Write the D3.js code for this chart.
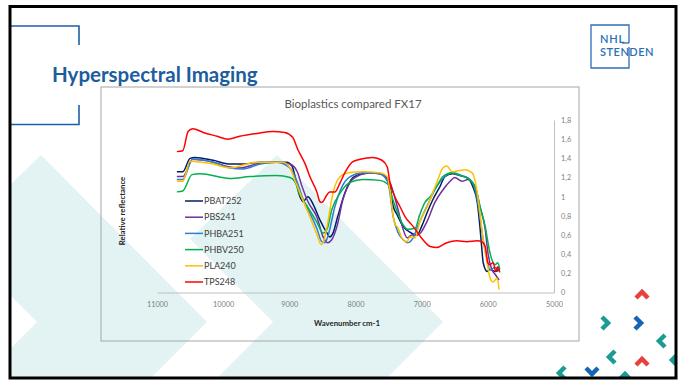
<!DOCTYPE html>
<html>
<head>
<meta charset="utf-8">
<script src="https://cdn.jsdelivr.net/npm/d3@7"></script>
<style>
  body { margin: 0; background: #fff; }
  text { font-family: Lato, "Open Sans", sans-serif; }
</style>
</head>
<body>
<svg id="slide"></svg>
<script>
// series: [wavenumber cm-1, relative reflectance]
const seriesNames = ["PBAT252", "PBS241", "PHBA251", "PHBV250", "PLA240", "TPS248"];
const seriesColors = ["#002060", "#7030a0", "#2e7fd0", "#00b050", "#ffc000", "#ff0000"];

const pbat252 = [[10700,1.26],[10610,1.26],[10500,1.40],[10430,1.41],[10150,1.38],[9900,1.34],[9700,1.34],[9440,1.36],[9190,1.36],[9040,1.36],[8960,1.32],[8910,1.20],[8870,1.07],[8790,0.95],[8720,1.00],[8640,0.92],[8540,0.76],[8430,0.62],[8390,0.58],[8340,0.62],[8270,0.79],[8160,1.04],[8040,1.20],[7890,1.24],[7680,1.25],[7560,1.21],[7480,1.11],[7430,0.90],[7370,0.81],[7280,0.69],[7180,0.63],[7070,0.60],[7000,0.69],[6920,0.83],[6830,0.97],[6720,1.11],[6650,1.21],[6540,1.24],[6420,1.22],[6300,1.19],[6230,1.11],[6160,0.94],[6120,0.69],[6090,0.45],[6070,0.31],[6010,0.22],[5970,0.24],[5890,0.22],[5820,0.24]];
const pbs241 = [[10700,1.21],[10610,1.21],[10460,1.39],[10150,1.36],[9900,1.31],[9750,1.30],[9440,1.35],[9190,1.36],[8990,1.34],[8880,1.26],[8810,1.11],[8720,0.95],[8580,0.78],[8490,0.58],[8420,0.52],[8360,0.55],[8280,0.69],[8190,0.97],[8080,1.15],[7980,1.21],[7780,1.25],[7590,1.23],[7480,1.15],[7370,0.90],[7280,0.66],[7220,0.57],[7150,0.60],[7060,0.60],[6920,0.74],[6800,0.94],[6680,1.07],[6570,1.16],[6500,1.20],[6390,1.16],[6300,1.18],[6190,1.10],[6120,0.90],[6040,0.66],[6000,0.42],[5940,0.24],[5890,0.19],[5830,0.13]];
const phba251 = [[10700,1.18],[10610,1.18],[10460,1.39],[10150,1.36],[9900,1.30],[9700,1.29],[9440,1.34],[9190,1.36],[8990,1.30],[8880,1.15],[8790,0.97],[8690,0.83],[8580,0.66],[8510,0.53],[8460,0.52],[8420,0.58],[8310,0.90],[8200,1.11],[8080,1.21],[7890,1.25],[7630,1.24],[7510,1.15],[7430,0.79],[7360,0.63],[7280,0.55],[7210,0.52],[7130,0.57],[7060,0.69],[6920,0.90],[6770,1.11],[6650,1.21],[6530,1.25],[6390,1.22],[6270,1.18],[6180,1.04],[6120,0.79],[6070,0.55],[6010,0.34],[5970,0.24],[5890,0.26],[5820,0.22]];
const phbv250 = [[10700,1.05],[10610,1.06],[10470,1.23],[10350,1.24],[9900,1.19],[9600,1.21],[9190,1.22],[8990,1.20],[8910,1.15],[8840,1.02],[8730,0.90],[8580,0.73],[8490,0.62],[8430,0.66],[8360,0.86],[8230,1.04],[8080,1.15],[7890,1.18],[7630,1.17],[7510,1.13],[7450,1.00],[7400,0.90],[7300,0.73],[7210,0.66],[7100,0.67],[7030,0.81],[6950,0.94],[6870,1.00],[6770,1.11],[6680,1.21],[6540,1.25],[6420,1.22],[6320,1.20],[6190,1.10],[6120,0.90],[6040,0.69],[5970,0.42],[5890,0.29],[5850,0.31],[5820,0.24]];
const pla240 = [[10700,1.16],[10610,1.16],[10500,1.37],[10150,1.34],[9900,1.30],[9490,1.36],[9100,1.36],[8990,1.30],[8910,1.16],[8810,0.99],[8690,0.79],[8580,0.60],[8520,0.50],[8490,0.52],[8430,0.69],[8340,1.04],[8230,1.21],[8110,1.25],[7890,1.26],[7630,1.25],[7520,1.21],[7480,1.07],[7430,0.79],[7400,0.71],[7360,0.68],[7300,0.57],[7220,0.53],[7180,0.58],[7100,0.57],[7030,0.73],[6920,0.89],[6770,1.15],[6680,1.30],[6620,1.32],[6540,1.26],[6450,1.27],[6350,1.28],[6240,1.25],[6160,1.04],[6120,0.83],[6070,0.55],[6010,0.31],[5970,0.16],[5920,0.11],[5860,0.15],[5830,0.03]];
const tps248 = [[10700,1.47],[10610,1.48],[10530,1.68],[10460,1.71],[10300,1.67],[10090,1.63],[9930,1.60],[9750,1.63],[9490,1.66],[9250,1.68],[9070,1.67],[8950,1.62],[8870,1.49],[8810,1.41],[8760,1.34],[8690,1.21],[8580,1.04],[8540,0.95],[8510,0.94],[8430,1.02],[8390,1.05],[8310,1.05],[8230,1.15],[8160,1.25],[8050,1.36],[7930,1.39],[7740,1.41],[7600,1.38],[7520,1.31],[7480,1.15],[7400,0.99],[7330,0.90],[7250,0.79],[7130,0.69],[6980,0.55],[6870,0.48],[6770,0.47],[6620,0.52],[6470,0.54],[6320,0.53],[6160,0.54],[6090,0.53],[6040,0.48],[6000,0.31],[5970,0.29],[5920,0.31],[5880,0.22],[5850,0.27],[5820,0.21]];

const seriesData = [pbat252, pbs241, phba251, phbv250, pla240, tps248];

const xTicks = [11000, 10000, 9000, 8000, 7000, 6000, 5000];
const yTicks = [0, 0.2, 0.4, 0.6, 0.8, 1, 1.2, 1.4, 1.6, 1.8];

const W = 684, H = 380;
const svg = d3.select("#slide").attr("width", W).attr("height", H);

// clip to the slide frame
svg.append("defs").append("clipPath").attr("id", "frame")
  .append("rect").attr("x", 10).attr("y", 6).attr("width", 666).attr("height", 372);
const bg = svg.append("g").attr("clip-path", "url(#frame)");

// pale chevron bands in the background
const band = "M277,155 L443,322 L386,379 L216,379 L273,322 L190,239 Z";
[-236, 0].forEach(dx => {
  bg.append("path").attr("d", band).attr("transform", `translate(${dx},0)`)
    .attr("fill", "#e3f3f4");
});

// little chevron icons bottom right
const icons = [
  { x: 642, y: 295, rot: -90, c: "#e8413c" },
  { x: 605, y: 323, rot: 0, c: "#1a9c92" },
  { x: 638, y: 323, rot: 0, c: "#1565b5" },
  { x: 662, y: 341, rot: 180, c: "#1a9c92" },
  { x: 612, y: 357, rot: 180, c: "#1a9c92" },
  { x: 642, y: 362, rot: -90, c: "#e8413c" },
  { x: 675, y: 360, rot: 180, c: "#1a9c92" },
  { x: 562, y: 373, rot: 180, c: "#1a9c92" },
  { x: 592, y: 371, rot: 90, c: "#1565b5" },
  { x: 625, y: 377, rot: -90, c: "#1a9c92" }
];
bg.selectAll(".icon").data(icons).enter().append("path")
  .attr("class", "icon")
  .attr("d", "M-3,-6 L3,0 L-3,6")
  .attr("transform", d => `translate(${d.x},${d.y}) rotate(${d.rot})`)
  .attr("fill", "none")
  .attr("stroke", d => d.c)
  .attr("stroke-width", 4.5);

// blue brackets + heading
const blue = "#1f5fa6";
svg.append("path").attr("d", "M10,26 H79 V45 M79,105 V124.5 H10")
  .attr("fill", "none").attr("stroke", blue).attr("stroke-width", 1.6);
svg.append("text").attr("x", 52).attr("y", 82)
  .attr("font-size", 20.5).attr("font-weight", 700).attr("fill", "#1b5d9e")
  .text("Hyperspectral Imaging");

// logo
const logoBlue = "#2a6fb8";
svg.append("path").attr("d", "M629,43 V25 H591 V68 H629 V47")
  .attr("fill", "none").attr("stroke", logoBlue).attr("stroke-width", 1.3);
svg.append("text").attr("x", 600).attr("y", 43).attr("font-size", 11)
  .attr("font-weight", 600).attr("letter-spacing", 0.8).attr("fill", logoBlue).text("NHL");
svg.append("path").attr("d", "M622,43 H629").attr("stroke", logoBlue).attr("stroke-width", 1.3);
svg.append("text").attr("x", 600).attr("y", 56).attr("font-size", 11)
  .attr("font-weight", 600).attr("letter-spacing", 0.5).attr("fill", logoBlue).text("STENDEN");

// chart frame
svg.append("rect").attr("x", 101).attr("y", 87).attr("width", 478).attr("height", 254)
  .attr("fill", "none").attr("stroke", "#a6a6a6").attr("stroke-width", 1);

// scales
const x = d3.scaleLinear().domain([11000, 5000]).range([157, 554]);
const y = d3.scaleLinear().domain([0, 1.8]).range([292.5, 120]);
const commaLocale = d3.formatLocale({ decimal: ",", thousands: ".", grouping: [3], currency: ["", "€"] });

const xAxis = svg.append("g").attr("transform", `translate(0,${y(0)})`)
  .call(d3.axisBottom(x).tickValues(xTicks).tickSize(0).tickPadding(9).tickFormat(d3.format("d")));
const yAxis = svg.append("g").attr("transform", `translate(${x(5000)},0)`)
  .call(d3.axisRight(y).tickValues(yTicks).tickSize(0).tickPadding(7).tickFormat(commaLocale.format("~g")));
[xAxis, yAxis].forEach(g => {
  g.select(".domain").attr("stroke", "#bfbfbf").attr("stroke-width", 1);
  g.selectAll("text").attr("fill", "#7f7f7f").attr("font-size", 7.3)
    .attr("font-family", "Lato, 'Open Sans', sans-serif");
});

// titles
svg.append("text").attr("x", 353).attr("y", 108).attr("text-anchor", "middle")
  .attr("font-size", 11.5).attr("fill", "#595959").text("Bioplastics compared FX17");
svg.append("text").attr("x", 347).attr("y", 326).attr("text-anchor", "middle")
  .attr("font-size", 7.8).attr("font-weight", 700).attr("fill", "#262626").text("Wavenumber cm-1");
svg.append("text").attr("transform", "translate(125,211) rotate(-90)").attr("text-anchor", "middle")
  .attr("font-size", 7.8).attr("font-weight", 700).attr("fill", "#262626").text("Relative reflectance");

// spectra
const line = d3.line().x(d => x(d[0])).y(d => y(d[1])).curve(d3.curveMonotoneX);
svg.selectAll(".spectrum").data(seriesData).enter().append("path")
  .attr("class", "spectrum")
  .attr("d", line)
  .attr("fill", "none")
  .attr("stroke", (d, i) => seriesColors[i])
  .attr("stroke-width", 1.5)
  .attr("stroke-linejoin", "round");

// legend
const legend = svg.selectAll(".legend").data(seriesNames).enter().append("g")
  .attr("class", "legend")
  .attr("transform", (d, i) => `translate(185,${201 + i * 16.2})`);
legend.append("line").attr("x1", 0).attr("x2", 18)
  .attr("stroke", (d, i) => seriesColors[i]).attr("stroke-width", 1.5);
legend.append("text").attr("x", 19).attr("dy", "0.35em")
  .attr("font-size", 9).attr("fill", "#404040").text(d => d);

// slide frame
svg.append("rect").attr("x", 10).attr("y", 6.5).attr("width", 666).attr("height", 371.5)
  .attr("fill", "none").attr("stroke", "#000").attr("stroke-width", 3);
</script>
</body>
</html>
